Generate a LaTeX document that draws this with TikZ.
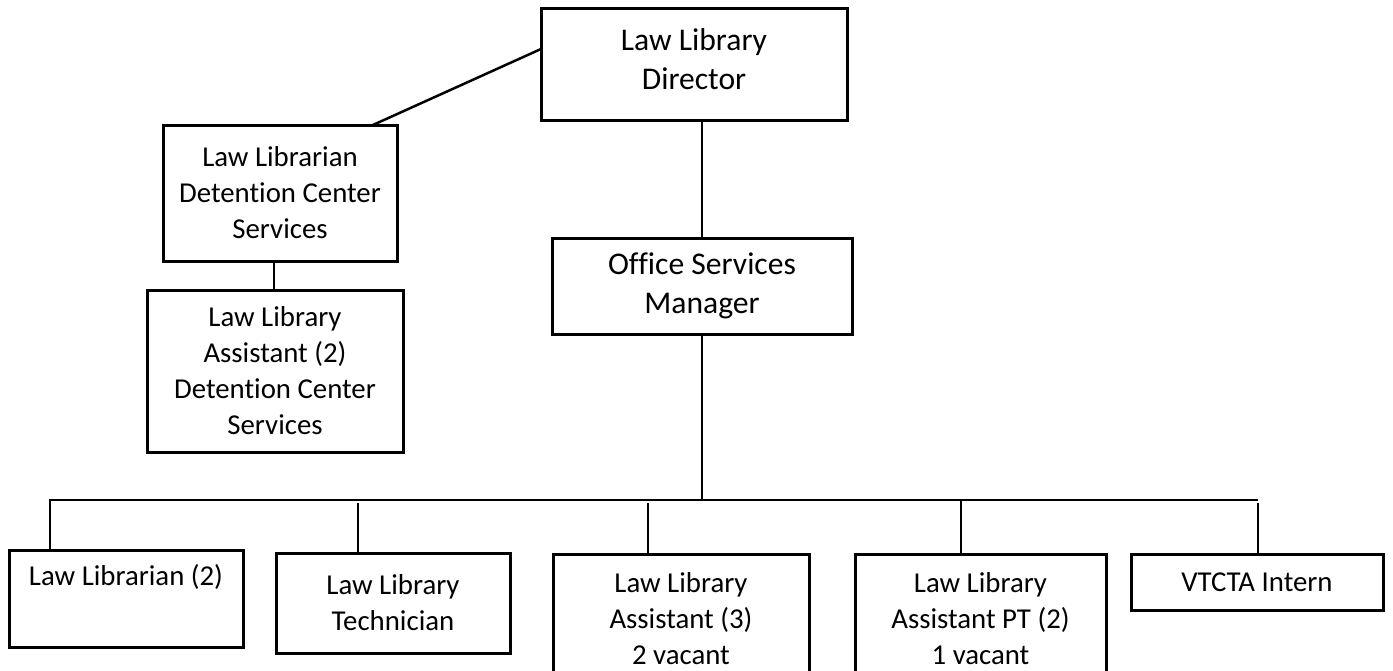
\documentclass[tikz,border=0pt]{standalone}
\usepackage{fontspec}
\setmainfont{Carlito}[Ligatures=NoCommon]
\usetikzlibrary{calc}
\begin{document}
\begin{tikzpicture}[x=1pt,y=-1pt,
  box/.style={draw, line width=3pt, rectangle, inner sep=0pt, outer sep=0pt, align=center,
    font=\fontsize{28.8}{36}\selectfont},
  bigbox/.style={box, font=\fontsize{31.6}{39}\selectfont},
  conn/.style={line width=2.5pt}]
\clip (0,0) rectangle (1393,670);
\fill[white] (0,0) rectangle (1393,670);
% boxes
\node[bigbox, minimum width=306pt, minimum height=112pt] (dir) at (694,64) {Law Library\\Director\rule[-10pt]{0pt}{10pt}};
\node[bigbox, minimum width=300pt, minimum height=96pt] (osm) at (702,286) {Office Services\\Manager};
\node[box, minimum width=234pt, minimum height=136pt] (lldc) at (280,193) {Law Librarian\\Detention Center\\Services};
\node[box, minimum width=256pt, minimum height=162pt] (asst2) at (275,371) {Law Library\\Assistant (2)\\Detention Center\\Services};
\node[box, minimum width=234pt, minimum height=97pt] (ll2) at (126,598.5) {Law Librarian (2)\\\strut};
\node[box, minimum width=234pt, minimum height=100pt] (tech) at (393,603) {Law Library\\Technician};
\node[box, minimum width=256pt, minimum height=130pt] (asst3) at (681,619) {Law Library\\Assistant (3)\\2 vacant};
\node[box, minimum width=251pt, minimum height=130pt] (pt) at (980.5,619) {Law Library\\Assistant PT (2)\\1 vacant};
\node[box, minimum width=252pt, minimum height=56pt] (vtcta) at (1257,582) {VTCTA Intern};
% coordinates
\coordinate (busL) at (50,500);
\coordinate (busR) at (1258,500);
\coordinate (lk) at (274,0);
\coordinate (tk) at (358,503);
\coordinate (ak) at (648,503);
\coordinate (pk) at (961,500);
\coordinate (vk) at (1258,503);
% connectors
\draw[conn] ($(dir.north west)!0.366!(dir.south west)$) -- ($(lldc.north west)!0.897!(lldc.north east)$);
\draw[conn] (dir.south -| osm.north) -- (osm.north);
\draw[conn] (osm.south) -- (osm.south |- busL);
\draw[conn] (ll2.north -| busL) -- (busL) -- (busR);
\draw[conn] (lldc.south -| lk) -- (asst2.north -| lk);
\draw[conn] (tk) -- (tech.north -| tk);
\draw[conn] (ak) -- (asst3.north -| ak);
\draw[conn] (pk) -- (pt.north -| pk);
\draw[conn] (vk) -- (vtcta.north -| vk);
\end{tikzpicture}
\end{document}
